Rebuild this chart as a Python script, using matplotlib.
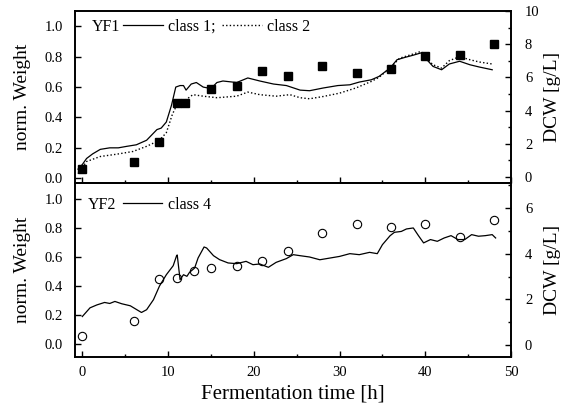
import matplotlib
matplotlib.use("Agg")
import matplotlib.pyplot as plt
from matplotlib.lines import Line2D
from matplotlib.ticker import MultipleLocator

plt.rcParams['font.family'] = ['Liberation Serif', 'DejaVu Serif']

# YF1 (top panel)
t_class1 = [-0.5, 0.0, 0.5, 1.2, 2.1, 3.2, 4.2, 5.2, 6.3, 7.5, 8.7, 9.2, 9.8, 10.4, 10.9, 11.4, 11.8,
            12.1, 12.7, 13.3, 14.1, 15.0, 15.7, 16.4, 18.0, 19.3, 20.7, 22.3, 23.8, 25.4, 26.5,
            28.1, 29.8, 31.2, 32.3, 33.7, 34.6, 35.9, 36.7, 37.6, 38.6, 39.5, 40.1, 40.9, 41.9,
            42.8, 44.0, 45.2, 46.3, 47.8]
class1 = [0.06, 0.09, 0.13, 0.16, 0.19, 0.20, 0.20, 0.21, 0.22, 0.25, 0.32, 0.33, 0.37, 0.48, 0.60, 0.61, 0.61,
          0.58, 0.62, 0.63, 0.60, 0.59, 0.63, 0.64, 0.63, 0.66, 0.64, 0.62, 0.61, 0.58, 0.576,
          0.594, 0.61, 0.615, 0.633, 0.648, 0.67, 0.726, 0.78, 0.795, 0.81, 0.825, 0.785, 0.736, 0.714,
          0.752, 0.77, 0.747, 0.732, 0.714]
t_class2 = [-0.5, 0.0, 0.5, 2.1, 4.0, 5.9, 7.5, 9.0, 9.8, 10.5, 11.0, 11.8, 12.9, 14.1, 15.7, 18.0,
            19.3, 20.7, 22.6, 24.2, 25.4, 26.5, 28.1, 30.0, 31.9, 33.7, 34.6, 35.9, 37.0, 38.6,
            39.5, 40.1, 40.9, 41.9, 42.8, 44.0, 45.2, 46.3, 47.8]
class2 = [0.03, 0.07, 0.11, 0.143, 0.158, 0.176, 0.21, 0.25, 0.30, 0.42, 0.48, 0.505, 0.55, 0.54, 0.53, 0.54,
          0.567, 0.55, 0.54, 0.55, 0.53, 0.523, 0.538, 0.56, 0.594, 0.637, 0.664, 0.726, 0.79, 0.818,
          0.835, 0.79, 0.747, 0.725, 0.774, 0.80, 0.78, 0.765, 0.752]
t_dcw1 = [0, 6, 9, 11, 12, 15, 18, 21, 24, 28, 32, 36, 40, 44, 48]
dcw1 = [0.48, 0.90, 2.13, 4.44, 4.44, 5.28, 5.50, 6.37, 6.08, 6.67, 6.28, 6.50, 7.30, 7.35, 8.0]

# YF2 (bottom panel)
t_class4 = [0.0, 0.3, 0.9, 1.7, 2.6, 3.2, 3.8, 4.6, 5.6, 6.5, 6.9, 7.5, 8.3, 9.0, 9.8, 10.6, 11.0, 11.07,
            11.4, 11.8, 12.2, 12.5, 13.1, 13.5, 14.2, 14.5, 15.3, 16.0, 17.0, 18.0, 19.1, 19.9, 20.7,
            21.7, 22.6, 23.8, 24.6, 25.4, 26.5, 27.7, 28.9, 30.0, 31.2, 32.3, 33.5, 34.4, 35.0, 35.9,
            36.4, 37.2, 37.8, 38.6, 39.2, 39.8, 40.6, 41.4, 42.2, 43.0, 43.8, 44.6, 45.4, 46.2, 47.0,
            47.8, 48.2]
class4 = [0.19, 0.21, 0.25, 0.27, 0.287, 0.28, 0.294, 0.278, 0.264, 0.232, 0.218, 0.237, 0.306, 0.40, 0.478, 0.54, 0.61, 0.614,
          0.444, 0.478, 0.467, 0.494, 0.524, 0.593, 0.669, 0.662, 0.609, 0.582, 0.559, 0.554, 0.57, 0.547, 0.552,
          0.529, 0.563, 0.589, 0.616, 0.609, 0.60, 0.581, 0.593, 0.604, 0.623, 0.616, 0.632, 0.623, 0.685, 0.747,
          0.77, 0.776, 0.793, 0.80, 0.747, 0.697, 0.72, 0.708, 0.731, 0.747, 0.72, 0.72, 0.754, 0.743, 0.747,
          0.754, 0.731]
t_dcw2 = [0, 6, 9, 11, 13, 15, 18, 21, 24, 28, 32, 36, 40, 44, 48]
dcw2 = [0.43, 1.07, 2.88, 2.95, 3.24, 3.38, 3.47, 3.66, 4.11, 4.88, 5.27, 5.17, 5.27, 4.73, 5.44]

fig = plt.figure(figsize=(5.7, 4.12), dpi=100)
ax1 = fig.add_axes([0.1316, 0.556, 0.765, 0.417])
ax2 = fig.add_axes([0.1316, 0.133, 0.765, 0.423], sharex=ax1)
ax1r = ax1.twinx()
ax2r = ax2.twinx()

ax1.plot(t_class1, class1, color='black', lw=0.9)
ax1.plot(t_class2, class2, color='black', lw=1.0, linestyle=(0, (1, 1.6)))
ax1r.plot(t_dcw1, dcw1, 's', color='black', markersize=5.5)

ax2.plot(t_class4, class4, color='black', lw=0.9)
ax2r.plot(t_dcw2, dcw2, 'o', mfc='none', mec='black', mew=0.8, markersize=6)

ax1.set_xlim(-0.85, 50)
ax1.set_ylim(-0.031, 1.10)
ax1r.set_ylim(-0.36, 10.0)
ax2.set_ylim(-0.09, 1.11)
ax2r.set_ylim(-0.51, 7.07)

for ax in (ax1, ax2):
    ax.set_yticks([0.0, 0.2, 0.4, 0.6, 0.8, 1.0])
    ax.set_ylabel('norm. Weight', fontsize=14)
    ax.xaxis.set_major_locator(MultipleLocator(10))
    ax.xaxis.set_minor_locator(MultipleLocator(5))
    ax.tick_params(axis='both', which='both', direction='in', labelsize=10.5)
    ax.tick_params(axis='y', pad=8.5)
    ax.tick_params(axis='x', pad=6)
    ax.tick_params(which='major', length=4, width=1)
    ax.tick_params(which='minor', length=2.5, width=1)
    ax.yaxis.set_label_coords(-0.10, 0.5)
for ax in (ax1r, ax2r):
    ax.yaxis.set_major_locator(MultipleLocator(2))
    ax.yaxis.set_minor_locator(MultipleLocator(1))
    ax.tick_params(axis='y', which='both', direction='in', labelsize=10.5, pad=10)
    ax.tick_params(which='major', length=4, width=1)
    ax.tick_params(which='minor', length=2.5, width=1)
    ax.set_ylabel('DCW [g/L]', fontsize=14)
    ax.yaxis.set_label_coords(1.075, 0.5)
for ax in (ax1, ax2, ax1r, ax2r):
    for s in ax.spines.values():
        s.set_linewidth(1.2)

ax1.tick_params(axis='x', labelbottom=False)
ax2.set_xlabel('Fermentation time [h]', fontsize=15)

ax1.text(0.038, 0.909, 'YF1', transform=ax1.transAxes, fontsize=11.5, va='center')
h1 = Line2D([], [], color='black', lw=0.9)
h2 = Line2D([], [], color='black', lw=1.0, linestyle=(0, (1, 1.6)))
ax1.legend([h1, h2], ['class 1;', 'class 2'], ncol=2, loc='center left',
           bbox_to_anchor=(0.11, 0.909), frameon=False, borderpad=0, borderaxespad=0,
           handlelength=2.5, handletextpad=0.35, columnspacing=0.35, fontsize=11.5)

ax2.text(0.03, 0.874, 'YF2', transform=ax2.transAxes, fontsize=11.5, va='center')
h4 = Line2D([], [], color='black', lw=0.9)
ax2.legend([h4], ['class 4'], loc='center left', bbox_to_anchor=(0.109, 0.874),
           frameon=False, borderpad=0, borderaxespad=0, handlelength=2.5,
           handletextpad=0.35, fontsize=11.5)

fig.savefig('out.png', dpi=100)
